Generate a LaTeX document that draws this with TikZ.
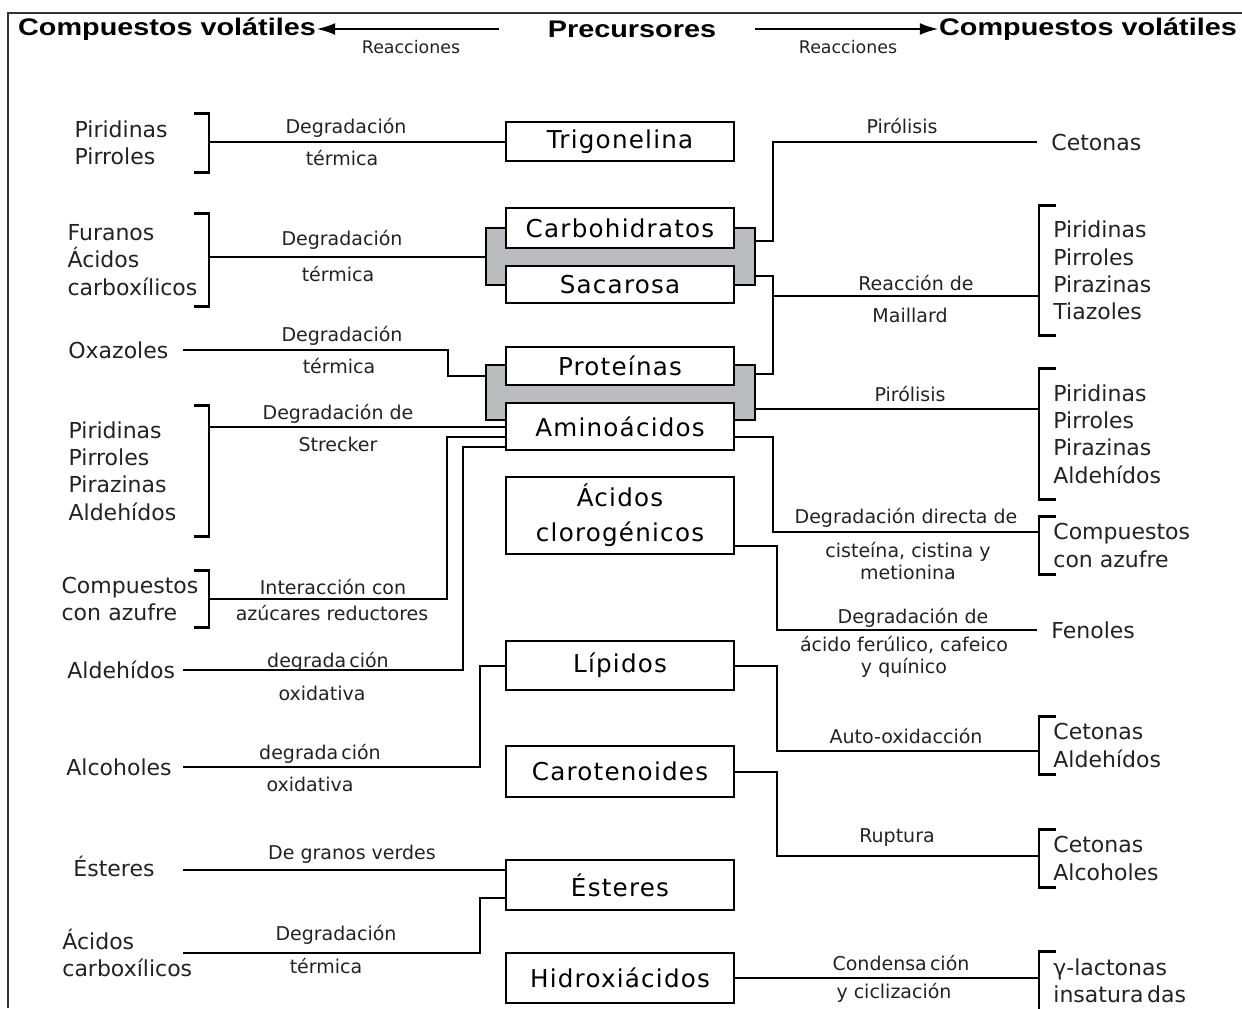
\documentclass[tikz,border=0pt]{standalone}
\usepackage{fontspec}
\setmainfont{DejaVu Sans}
\newfontfamily\ttlfont{Liberation Sans}[FakeStretch=1.2]
\newfontfamily\boxfont{DejaVu Sans}[LetterSpace=5]
\usetikzlibrary{arrows.meta}
\definecolor{bandgrey}{RGB}{187,188,192}
\definecolor{txt}{RGB}{34,34,34}

\begin{document}
\begin{tikzpicture}[x=0.5pt, y=-0.5pt,
  box/.style={draw, line width=1.2pt, fill=white, minimum width=114pt, inner sep=0pt, align=center,
    font=\boxfont\fontsize{12.3pt}{17.5pt}\selectfont},
  band/.style={draw, line width=1.2pt, fill=bandgrey, inner sep=0pt, minimum width=134.5pt},
  ttl/.style={inner sep=0pt, font=\ttlfont\bfseries\fontsize{12pt}{14pt}\selectfont},
  rcn/.style={inner sep=0pt, text=txt, font=\fontsize{8.7pt}{10pt}\selectfont},
  lbl/.style={inner sep=0pt, text=txt, align=center, font=\fontsize{9.5pt}{11pt}\selectfont},
  llist/.style={anchor=east, align=left, inner xsep=0pt, inner ysep=0pt, text=txt,
    font=\fontsize{11pt}{13.7pt}\selectfont},
  rlist/.style={anchor=west, align=left, inner xsep=7pt, inner ysep=0pt, text=txt,
    font=\fontsize{11pt}{13.7pt}\selectfont},
  slist/.style={anchor=west, align=left, inner sep=0pt, text=txt,
    font=\fontsize{11pt}{13.7pt}\selectfont},
  link/.style={line width=1pt},
  brk/.style={line width=1.2pt},
  tarrow/.style={line width=1.3pt, -{Latex[length=9.5pt,width=6pt]}}]
  \useasboundingbox (0,0) rectangle (1242,1008);
  \draw[line width=0.7pt, black!80] (8,1008) |- (1242,13);

  % cabecera
  \node[ttl] (cvL) at (167,29) {Compuestos volátiles};
  \node[ttl] (prec) at (632,29) {Precursores};
  \node[ttl] (cvR) at (1088,29) {Compuestos volátiles};
  \node[rcn] (reL) at (411,47) {Reacciones};
  \node[rcn] (reR) at (848,47) {Reacciones};
  \draw[tarrow] ([xshift=-24.5pt]prec.west) -- (cvL.east);
  \draw[tarrow] ([xshift=19.5pt]prec.east) -- (cvR.west);

  % precursores
  \node[band, minimum height=28.5pt] (grpCS) at (620.5,256.5) {};
  \node[band, minimum height=27.5pt] (grpPA) at (620.5,392.5) {};
  \node[box, minimum height=19.5pt] (trig) at (620,141.5) {Trigonelina};
  \node[box, minimum height=20pt] (carb) at (620,228) {Carbohidratos};
  \node[box, minimum height=18.5pt] (sac) at (620,284.5) {Sacarosa};
  \node[box, minimum height=19pt] (prot) at (620,366) {Proteínas};
  \node[box, minimum height=23.5pt] (amino) at (620,426.5) {Aminoácidos};
  \node[box, minimum height=38.5pt] (clorog) at (620,515.5) {Ácidos\\clorogénicos};
  \node[box, minimum height=24.5pt] (lip) at (620,665.5) {Lípidos};
  \node[box, minimum height=25.5pt] (carot) at (620,771.5) {Carotenoides};
  \node[box, minimum height=25pt] (est) at (620,885) {Ésteres};
  \node[box, minimum height=25pt] (hidrox) at (620,978) {Hidroxiácidos};

  % compuestos de la izquierda
  \coordinate (lx) at (183,0);
  \node[llist, text width=67pt, minimum height=29pt] (lPP) at (209,143) {Piridinas\\Pirroles};
  \node[llist, text width=70.5pt, minimum height=46pt] (lFA) at (209,260) {Furanos\\Ácidos\\carboxílicos};
  \node[llist, text width=70pt, minimum height=65pt] (lP4) at (209,471) {Piridinas\\Pirroles\\Pirazinas\\Aldehídos};
  \node[llist, text width=73.5pt, minimum height=28pt] (lCA) at (209,599) {Compuestos\\con azufre};
  \node[slist] (oxa) at (68,350) {Oxazoles};
  \node[slist] (ald) at (67,670) {Aldehídos};
  \node[slist] (alc) at (66,767) {Alcoholes};
  \node[slist] (estL) at (73,866) {Ésteres};
  \node[slist] (acL) at (62,953) {Ácidos\\carboxílicos};
  \foreach \n in {lPP,lFA,lP4,lCA}
    \draw[brk] ([xshift=-7.5pt]\n.north east) -- (\n.north east) -- (\n.south east) -- ([xshift=-7.5pt]\n.south east);

  % compuestos de la derecha
  \node[rlist] (cet) at (1037,142) {Cetonas};
  \node[rlist, minimum height=64.5pt] (rMai) at (1039,270.5) {Piridinas\\Pirroles\\Pirazinas\\Tiazoles};
  \node[rlist, minimum height=65pt] (rPir) at (1039,434) {Piridinas\\Pirroles\\Pirazinas\\Aldehídos};
  \node[rlist, minimum height=28.5pt] (rCA) at (1039,545.5) {Compuestos\\con azufre};
  \node[rlist] (fen) at (1037,630) {Fenoles};
  \node[rlist, minimum height=28.5pt] (rCAl) at (1039,745.5) {Cetonas\\Aldehídos};
  \node[rlist, minimum height=28.5pt] (rCAlc) at (1039,858.5) {Cetonas\\Alcoholes};
  \node[rlist, minimum height=29pt] (rLac) at (1039,981) {γ-lactonas\\insatura\,das};
  \foreach \n in {rMai,rPir,rCA,rCAl,rCAlc,rLac}
    \draw[brk] ([xshift=8.5pt]\n.north west) -- (\n.north west) -- (\n.south west) -- ([xshift=8.5pt]\n.south west);

  % reacciones, lado izquierdo
  \draw[link] (trig.west) -- (trig.west -| lPP.east);
  \draw[link] (grpCS.west) -- (grpCS.west -| lFA.east);
  \draw[link] ([yshift=-6pt]grpPA.north west) -- ++(-37,0) |- (oxa.east -| lx);
  \draw[link] (amino.west) -- (amino.west -| lP4.east);
  \draw[link] ([yshift=-5pt]amino.west) -- ++(-58,0) |- (lCA.east);
  \draw[link] ([yshift=-10pt]amino.west) -- ++(-42,0) |- (ald.east -| lx);
  \draw[link] (lip.west) -- ++(-25,0) |- (alc.east -| lx);
  \coordinate (estIn) at ([yshift=-5.5pt]est.north west);
  \draw[link] (estIn) -- (estIn -| lx);
  \draw[link] ([yshift=-6.5pt]est.west) -- ++(-25,0) |- (acL.east -| lx);

  % reacciones, lado derecho
  \draw[link] ([yshift=-7pt]grpCS.north east) -- ++(17,0) |- (cet.west);
  \draw[link] ([yshift=5pt]grpCS.south east) -- ++(17,0) coordinate (mBus) |- ([yshift=-5pt]grpPA.north east);
  \coordinate (maiIn) at ([yshift=-12.75pt]rMai.west);
  \draw[link] (maiIn) -- (maiIn -| mBus);
  \draw[link] ([yshift=-8.25pt]grpPA.east) -- ([yshift=12.5pt]rPir.west);
  \draw[link] ([yshift=-5.25pt]amino.east) -- ++(38,0) |- ([yshift=6.75pt]rCA.west);
  \draw[link] ([yshift=-15.25pt]clorog.east) -- ++(42,0) |- (fen.west);
  \draw[link] (lip.east) -- ++(42,0) |- ([yshift=-2.75pt]rCAl.west);
  \draw[link] (carot.east) -- ++(42,0) |- ([yshift=1.25pt]rCAlc.west);
  \draw[link] (hidrox.east) -- (hidrox.east -| rLac.west);

  % etiquetas
  \node[lbl] (dg1) at (346,128) {Degradación};
  \node[lbl] (tm1) at (342,158) {térmica};
  \node[lbl] (dg2) at (342,240) {Degradación};
  \node[lbl] (tm2) at (338,274) {térmica};
  \node[lbl] (dg3) at (342,336) {Degradación};
  \node[lbl] (tm3) at (339,366) {térmica};
  \node[lbl] (st1) at (338,414) {Degradación de};
  \node[lbl] (st2) at (338,444) {Strecker};
  \node[lbl] (az1) at (333,587) {Interacción con};
  \node[lbl] (az2) at (332,613) {azúcares reductores};
  \node[lbl] (ox1) at (328,662) {degrada\,ción};
  \node[lbl] (ox2) at (322,693) {oxidativa};
  \node[lbl] (ox3) at (320,754) {degrada\,ción};
  \node[lbl] (ox4) at (310,784) {oxidativa};
  \node[lbl] (gv) at (352,854) {De granos verdes};
  \node[lbl] (dg4) at (336,935) {Degradación};
  \node[lbl] (tm4) at (326,966) {térmica};
  \node[lbl] (pi1) at (902,126) {Pirólisis};
  \node[lbl] (ma1) at (916,283) {Reacción de};
  \node[lbl] (ma2) at (910,315) {Maillard};
  \node[lbl] (pi2) at (910,394) {Pirólisis};
  \node[lbl] (dd1) at (906,518) {Degradación directa de};
  \node[lbl] (dd2) at (908,561) {cisteína, cistina y\\metionina};
  \node[lbl] (fe1) at (913,618) {Degradación de};
  \node[lbl] (fe2) at (904,657) {ácido ferúlico, cafeico\\y quínico};
  \node[lbl] (ao) at (906,736) {Auto-oxidacción};
  \node[lbl] (ru) at (897,838) {Ruptura};
  \node[lbl] (cc1) at (901,963) {Condensa\,ción};
  \node[lbl] (cc2) at (894,993) {y ciclización};
\end{tikzpicture}
\end{document}
